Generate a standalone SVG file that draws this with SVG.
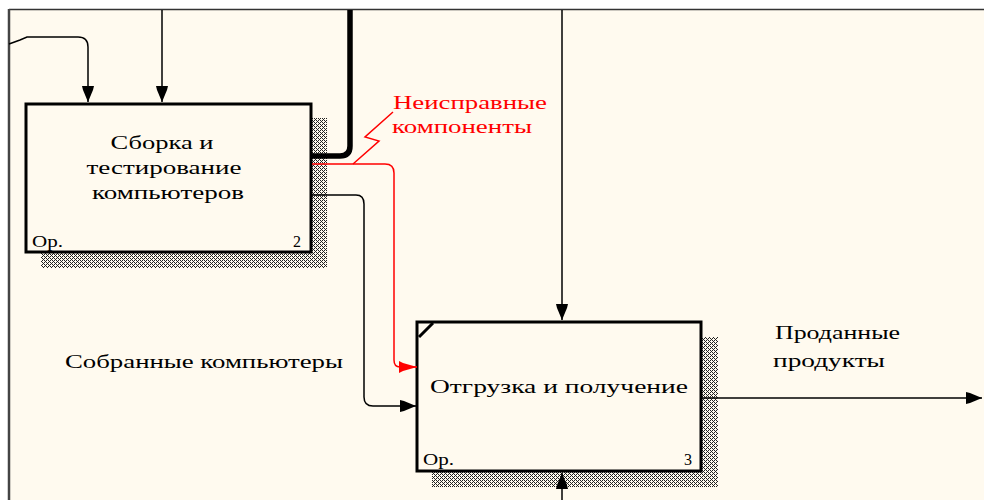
<svg xmlns="http://www.w3.org/2000/svg" width="984" height="500" viewBox="0 0 984 500">
<style>
.t{font-family:"Liberation Serif",serif;font-size:19px;fill:#000}
.r{fill:#f00}
.s{font-family:"Liberation Serif",serif;font-size:16px;fill:#000}
.box{fill:#FFFAEF;stroke:#000;stroke-width:3}
.ln{fill:none;stroke:#000;stroke-width:1.5}
.red{fill:none;stroke:#f00;stroke-width:1.5}
.hp{fill:#222}
</style>
<defs>
<pattern id="hatch" width="4" height="4" patternUnits="userSpaceOnUse">
<rect width="4" height="4" fill="#FFFAEF"/>
<rect class="hp" x="0" y="0" width="1" height="1"/>
<rect class="hp" x="1" y="1" width="1" height="1"/>
<rect class="hp" x="2" y="2" width="1" height="1"/>
<rect class="hp" x="3" y="3" width="1" height="1"/>
<rect class="hp" x="0" y="2" width="1" height="1"/>
<rect class="hp" x="2" y="0" width="1" height="1"/>
</pattern>
<marker id="ah" markerUnits="userSpaceOnUse" markerWidth="16" markerHeight="12" refX="16" refY="6" orient="auto">
<path d="M0,0 L4,1 L16,6 L4,11 L0,12 Z" fill="#000"/>
</marker>
<marker id="ahr" markerUnits="userSpaceOnUse" markerWidth="18" markerHeight="12" refX="18" refY="6" orient="auto">
<path d="M0,0 L4,2 L18,6 L4,10 L0,12 Z" fill="#f00"/>
</marker>
</defs>
<rect width="984" height="500" fill="#fff"/>
<rect x="9" y="10" width="975" height="490" fill="#FFFAEF"/>
<line x1="9" y1="9.5" x2="984" y2="9.5" stroke="#333" stroke-width="1.5"/>
<line x1="9" y1="9" x2="9" y2="500" stroke="#444" stroke-width="2.5"/>

<g id="node-2">
<rect x="311" y="118" width="16" height="150" fill="url(#hatch)"/>
<rect x="41" y="252" width="286" height="16" fill="url(#hatch)"/>
<rect class="box" x="26" y="104" width="285" height="148"/>
<text class="t" text-anchor="middle" x="162" y="149" textLength="103" lengthAdjust="spacingAndGlyphs">Сборка и</text>
<text class="t" text-anchor="middle" x="164" y="174" textLength="155" lengthAdjust="spacingAndGlyphs">тестирование</text>
<text class="t" text-anchor="middle" x="168" y="199" textLength="152" lengthAdjust="spacingAndGlyphs">компьютеров</text>
<text class="s" x="32" y="247" textLength="31" lengthAdjust="spacingAndGlyphs">Ор.</text>
<text class="s" x="293" y="247">2</text>
</g>

<g id="node-3">
<rect x="701" y="337" width="17" height="150" fill="url(#hatch)"/>
<rect x="432" y="471" width="286" height="16" fill="url(#hatch)"/>
<rect class="box" x="417" y="322" width="284" height="149"/>
<path d="M419,337 L433,323" stroke="#000" stroke-width="3"/>
<text class="t" text-anchor="middle" x="559" y="393" textLength="258" lengthAdjust="spacingAndGlyphs">Отгрузка и получение</text>
<text class="s" x="423" y="465" textLength="31" lengthAdjust="spacingAndGlyphs">Ор.</text>
<text class="s" x="684" y="465">3</text>
</g>

<g id="connectors">
<path class="ln" d="M9,44 L20,40 L27,37 L78,37 Q88,37 88,47 L88,102" marker-end="url(#ah)"/>
<path class="ln" d="M162,10 L162,102" marker-end="url(#ah)"/>
<path d="M350,10 L350,146 Q350,156 340,156 L312,156" fill="none" stroke="#000" stroke-width="5.5"/>
<path class="red" d="M312,164 L385,164 Q394,164 394,173 L394,360 Q394,367 400,367 L417,367" marker-end="url(#ahr)"/>
<path class="red" d="M393,112 L365,137 L379,141 L353,164"/>
<path class="ln" d="M312,195 L356,195 Q364,195 364,204 L364,397 Q364,406 373,406 L416,406" marker-end="url(#ah)"/>
<path class="ln" d="M562,10 L562,320" marker-end="url(#ah)"/>
<path class="ln" d="M562,500 L562,473" marker-end="url(#ah)"/>
<path class="ln" d="M702,398 L982,398" marker-end="url(#ah)"/>
</g>

<g id="labels">
<text class="t r" x="393" y="109" textLength="154" lengthAdjust="spacingAndGlyphs">Неисправные</text>
<text class="t r" x="392" y="133" textLength="140" lengthAdjust="spacingAndGlyphs">компоненты</text>
<text class="t" x="65" y="368" textLength="278" lengthAdjust="spacingAndGlyphs">Собранные компьютеры</text>
<text class="t" x="775" y="339" textLength="125" lengthAdjust="spacingAndGlyphs">Проданные</text>
<text class="t" x="773" y="367" textLength="112" lengthAdjust="spacingAndGlyphs">продукты</text>
</g>
</svg>
